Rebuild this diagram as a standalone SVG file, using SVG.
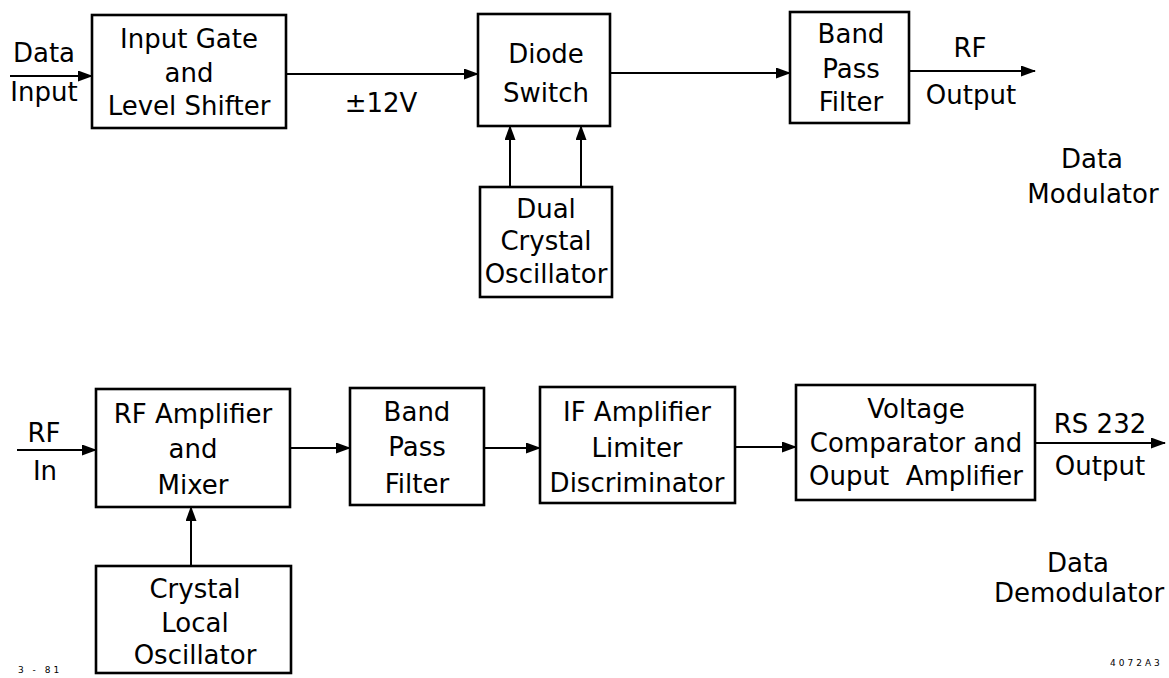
<svg xmlns="http://www.w3.org/2000/svg" width="1169" height="678" viewBox="0 0 1169 678">
<style>
.box{fill:#fff;stroke:#000;stroke-width:2.6}
.ln{stroke:#000;stroke-width:2;fill:none}
text{font-family:"DejaVu Sans","Liberation Sans",sans-serif;font-size:26px;fill:#000;text-anchor:middle}
.sm{font-size:9px;letter-spacing:3px;text-anchor:start}
</style>
<defs>
<marker id="ah" markerWidth="15" markerHeight="11" refX="14" refY="5.5" orient="auto" markerUnits="userSpaceOnUse">
<path d="M0,0 L15,5.5 L0,11 Z" fill="#000"/>
</marker>
</defs>
<rect width="1169" height="678" fill="#fff"/>
<g id="connectors">
<line class="ln" x1="10" y1="76" x2="92" y2="76" marker-end="url(#ah)"/>
<line class="ln" x1="286" y1="74" x2="478" y2="74" marker-end="url(#ah)"/>
<line class="ln" x1="610" y1="73" x2="790" y2="73" marker-end="url(#ah)"/>
<line class="ln" x1="909" y1="71" x2="1035" y2="71" marker-end="url(#ah)"/>
<line class="ln" x1="510" y1="187" x2="510" y2="126" marker-end="url(#ah)"/>
<line class="ln" x1="581" y1="187" x2="581" y2="126" marker-end="url(#ah)"/>
<line class="ln" x1="17" y1="450" x2="96" y2="450" marker-end="url(#ah)"/>
<line class="ln" x1="290" y1="448" x2="350" y2="448" marker-end="url(#ah)"/>
<line class="ln" x1="484" y1="448" x2="540" y2="448" marker-end="url(#ah)"/>
<line class="ln" x1="735" y1="447" x2="796" y2="447" marker-end="url(#ah)"/>
<line class="ln" x1="1036" y1="443" x2="1165" y2="443" marker-end="url(#ah)"/>
<line class="ln" x1="191" y1="566" x2="191" y2="507" marker-end="url(#ah)"/>
</g>
<g id="labels">
<text x="44" y="62">Data</text>
<text x="44" y="101">Input</text>
<text x="381" y="112">±12V</text>
<text x="970" y="57">RF</text>
<text x="971" y="104">Output</text>
<text x="1092" y="168">Data</text>
<text x="1093" y="203">Modulator</text>
<text x="44" y="442">RF</text>
<text x="45" y="480">In</text>
<text x="1100" y="433">RS 232</text>
<text x="1100" y="475">Output</text>
<text x="1078" y="572">Data</text>
<text x="1079" y="602">Demodulator</text>
<text class="sm" x="18" y="673">3 - 81</text>
<text class="sm" x="1110" y="666">4072A3</text>
</g>
<g id="input-gate">
<rect class="box" x="92" y="15" width="194" height="113"/>
<text x="189" y="48">Input Gate</text>
<text x="189" y="82">and</text>
<text x="189" y="115">Level Shifter</text>
</g>
<g id="diode-switch">
<rect class="box" x="478" y="14" width="132" height="112"/>
<text x="546" y="63">Diode</text>
<text x="546" y="102">Switch</text>
</g>
<g id="dual-crystal">
<rect class="box" x="480" y="187" width="132" height="110"/>
<text x="546" y="218">Dual</text>
<text x="546" y="250">Crystal</text>
<text x="546" y="283">Oscillator</text>
</g>
<g id="bpf-top">
<rect class="box" x="790" y="12" width="119" height="111"/>
<text x="851" y="43">Band</text>
<text x="851" y="78">Pass</text>
<text x="851" y="111">Filter</text>
</g>
<g id="rf-amp">
<rect class="box" x="96" y="389" width="194" height="118"/>
<text x="193" y="423">RF Amplifier</text>
<text x="193" y="458">and</text>
<text x="193" y="494">Mixer</text>
</g>
<g id="bpf-bottom">
<rect class="box" x="350" y="388" width="134" height="117"/>
<text x="417" y="421">Band</text>
<text x="417" y="456">Pass</text>
<text x="417" y="493">Filter</text>
</g>
<g id="if-amp">
<rect class="box" x="540" y="387" width="195" height="116"/>
<text x="637" y="421">IF Amplifier</text>
<text x="637" y="457">Limiter</text>
<text x="637" y="492">Discriminator</text>
</g>
<g id="voltage-comp">
<rect class="box" x="796" y="385" width="239" height="115"/>
<text x="916" y="418">Voltage</text>
<text x="916" y="452">Comparator and</text>
<text x="916" y="485" xml:space="preserve">Ouput  Amplifier</text>
</g>
<g id="crystal-local">
<rect class="box" x="96" y="566" width="195" height="107"/>
<text x="195" y="598">Crystal</text>
<text x="195" y="632">Local</text>
<text x="195" y="664">Oscillator</text>
</g>
</svg>
